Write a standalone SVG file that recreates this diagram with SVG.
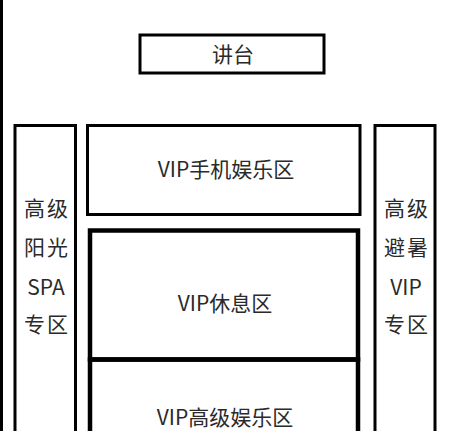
<svg xmlns="http://www.w3.org/2000/svg" width="453" height="431" viewBox="0 0 453 431">
<style>
.box{fill:none;stroke:#000;stroke-width:3}
.thick{fill:none;stroke:#000;stroke-width:4.5}
.t{font-family:"Noto Sans CJK SC","Noto Sans",sans-serif;font-size:21px;fill:#2a2a2a;text-anchor:middle}
.c{letter-spacing:2px}
</style>
<rect width="453" height="431" fill="#fff"/>
<g id="edges"></g>
<g id="wall"><line x1="1.5" y1="0" x2="1.5" y2="431" stroke="#000" stroke-width="3"/></g>
<g id="stage"><rect class="box" x="140" y="35" width="184" height="38"/><text class="t" x="233" y="62">讲台</text></g>
<g id="left-spa"><rect class="box" x="15" y="125.5" width="60.5" height="320"/>
<text class="t c" x="47" y="216">高级</text><text class="t c" x="47" y="255">阳光</text><text class="t" x="46" y="295">SPA</text><text class="t c" x="47" y="332">专区</text></g>
<g id="right-vip"><rect class="box" x="375" y="125.5" width="60" height="320"/>
<text class="t c" x="407" y="216">高级</text><text class="t c" x="407" y="255">避暑</text><text class="t" x="406" y="295">VIP</text><text class="t c" x="407" y="332">专区</text></g>
<g id="vip-phone"><rect class="box" x="87.5" y="125.5" width="272.5" height="89"/><text class="t" x="226" y="177">VIP手机娱乐区</text></g>
<g id="vip-rest"><rect class="thick" x="90" y="230.5" width="268" height="129"/><text class="t" x="225" y="311">VIP休息区</text></g>
<g id="vip-ent"><rect class="thick" x="90" y="359.5" width="268" height="90"/><text class="t" x="225" y="425">VIP高级娱乐区</text></g>
</svg>
